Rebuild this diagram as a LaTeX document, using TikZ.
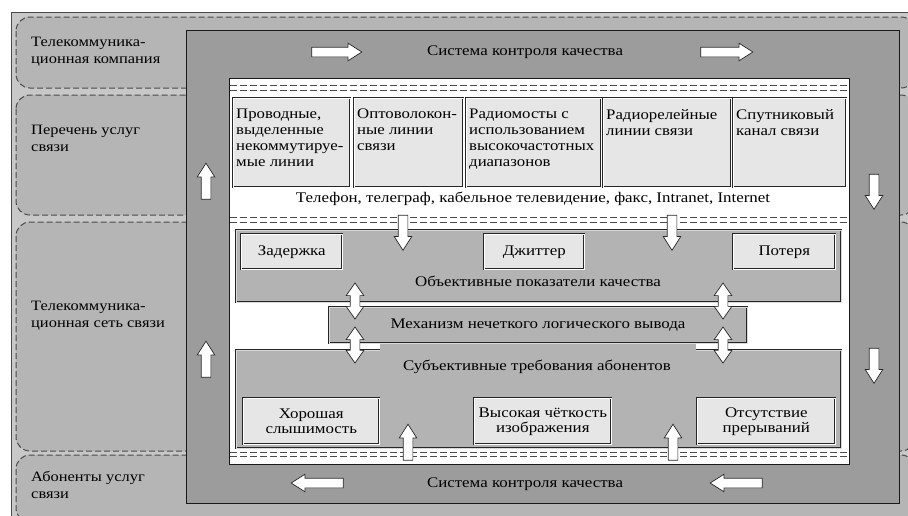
\documentclass[tikz,border=0pt]{standalone}
\usepackage{fontspec}
\setmainfont{Liberation Serif}[FakeStretch=1.15]
\usetikzlibrary{shapes.arrows}
\definecolor{bgout}{HTML}{C8C8C8}
\definecolor{regfill}{HTML}{B5B5B5}
\definecolor{framefill}{HTML}{9C9C9C}
\definecolor{panelfill}{HTML}{B3B3B3}
\definecolor{boxfill}{HTML}{E6E6E6}
\definecolor{dashcol}{HTML}{4A4A4A}
\begin{document}
\begin{tikzpicture}[x=1pt,y=-1pt,
  region/.style={draw=dashcol, dash pattern=on 6pt off 3pt, rounded corners=14pt, fill=regfill, line width=1pt},
  pairline/.style={draw=dashcol, dash pattern=on 7pt off 3pt, line width=0.9pt},
  lbl/.style={anchor=north west, align=left, inner sep=0pt, font=\fontsize{14.3}{17}\selectfont},
  btxt/.style={anchor=north west, align=left, inner sep=0pt, font=\fontsize{14.6}{16}\selectfont},
  ctxt/.style={inner sep=0pt, align=center, font=\fontsize{14.7}{15}\selectfont},
  cbox/.style={draw=black!85, double=white, double distance=0.7pt, line width=0.6pt, fill=boxfill, anchor=north west, inner sep=0pt},
  panel/.style={draw=black!85, double=black!15, double distance=0.6pt, line width=0.55pt, fill=panelfill},
  sarrow/.style={single arrow, draw=black!85, fill=white, line width=0.7pt, inner sep=4.5pt, single arrow head extend=4pt, single arrow head indent=0pt, single arrow tip angle=65, minimum height=#1},
  darrow/.style={double arrow, draw=black!85, fill=white, line width=0.7pt, inner sep=4.5pt, double arrow head extend=4pt, double arrow head indent=0pt, double arrow tip angle=70, minimum height=#1}]
\useasboundingbox (0,0) rectangle (908,515);
\clip (0,0) rectangle (908,515);
% outer background
\draw[fill=bgout, draw=black!70, line width=0.8pt] (11,12) rectangle (940,540);
% dashed regions
\draw[region] (16,17) rectangle (915,88);
\draw[region] (16,95) rectangle (915,215);
\draw[region] (16,222) rectangle (915,451);
\draw[region] (16,455) rectangle (915,522);
% left labels
\node[lbl] (l1) at (31,37) {Телекоммуника-\\ционная компания};
\node[lbl] (l2) at (31,125) {Перечень услуг\\связи};
\node[lbl] (l3) at (31,301) {Телекоммуника-\\ционная сеть связи};
\node[lbl] (l4) at (31,471) {Абоненты услуг\\связи};
% dark frame and white area
\draw[fill=framefill, draw=black!90, line width=0.8pt] (186,30) rectangle (899,503);
\draw[fill=white, draw=black!90, line width=0.9pt] (229,78) rectangle (849,464);
% double dashed lines
\foreach \yy in {85,90,217,222,452,456}{\draw[pairline] (230,\yy) -- (848,\yy);}
% top row boxes
\node[cbox, minimum width=117pt, minimum height=89pt] (b1) at (233,98) {};
\node[cbox, minimum width=109pt, minimum height=89pt] (b2) at (354,98) {};
\node[cbox, minimum width=135pt, minimum height=89pt] (b3) at (466,98) {};
\node[cbox, minimum width=128pt, minimum height=89pt] (b4) at (603,98) {};
\node[cbox, minimum width=113pt, minimum height=89pt] (b5) at (733,98) {};
\node[btxt] (tb1) at ([shift={(3,11)}]b1.north west) {Проводные,\\выделенные\\некоммутируе-\\мые линии};
\node[btxt] (tb2) at ([shift={(3,11)}]b2.north west) {Оптоволокон-\\ные линии\\связи};
\node[btxt] (tb3) at ([shift={(3,11)}]b3.north west) {Радиомосты с\\использованием\\высокочастотных\\диапазонов};
\node[btxt] (tb4) at ([shift={(3,11)}]b4.north west) {Радиорелейные\\линии связи};
\node[btxt] (tb5) at ([shift={(3,11)}]b5.north west) {Спутниковый\\канал связи};
\node[ctxt] (serv) at (533,199) {Телефон, телеграф, кабельное телевидение, факс, Intranet, Internet};
% frame texts
\node[ctxt] (sq1) at (525,52) {Система контроля качества};
\node[ctxt] (sq2) at (525,484) {Система контроля качества};
% objective panel
\draw[panel] (236,230) rectangle (841,302);
\node[cbox, minimum width=101pt, minimum height=35pt] (o1) at (241,234) {};
\node[cbox, minimum width=100pt, minimum height=35pt] (o2) at (484,234) {};
\node[cbox, minimum width=102pt, minimum height=35pt] (o3) at (733,234) {};
\node[ctxt] (to1) at (o1.center) {Задержка};
\node[ctxt] (to2) at (o2.center) {Джиттер};
\node[ctxt] (to3) at (o3.center) {Потеря};
\node[ctxt] (obj) at (538,281) {Объективные показатели качества};
% subjective panel
\draw[panel] (236,350) rectangle (841,448);
\fill[panelfill] (380,341) rectangle (696,352);
% mechanism
\draw[panel] (329,307) rectangle (747,343);
\node[ctxt] (mech) at (538,325) {Механизм нечеткого логического вывода};
\node[cbox, minimum width=136pt, minimum height=46pt] (s1) at (243,398) {};
\node[cbox, minimum width=137pt, minimum height=46pt] (s2) at (474,398) {};
\node[cbox, minimum width=138pt, minimum height=46pt] (s3) at (697,398) {};
\node[ctxt] (ts1) at (s1.center) {Хорошая\\слышимость};
\node[ctxt] (ts2) at (s2.center) {Высокая чёткость\\изображения};
\node[ctxt] (ts3) at (s3.center) {Отсутствие\\прерываний};
\node[ctxt] (subj) at (537,367) {Субъективные требования абонентов};
% frame arrows
\node[sarrow=50pt, shape border rotate=0] (a1) at (333,52) {};
\node[sarrow=52pt, shape border rotate=0] (a2) at (723,52) {};
\node[sarrow=36pt, shape border rotate=90] (a3) at (206,185) {};
\node[sarrow=36pt, shape border rotate=90] (a4) at (206,363) {};
\node[sarrow=35pt, shape border rotate=270] (a5) at (874,188) {};
\node[sarrow=35pt, shape border rotate=270] (a6) at (874,362) {};
\node[sarrow=52pt, shape border rotate=180] (a7) at (321,483) {};
\node[sarrow=52pt, shape border rotate=180] (a8) at (740,483) {};
% inner arrows
\node[sarrow=35pt, shape border rotate=270] (d1) at (403,229) {};
\node[sarrow=35pt, shape border rotate=270] (d2) at (672,229) {};
\node[darrow=36pt, shape border rotate=90] (e1) at (355,301) {};
\node[darrow=36pt, shape border rotate=90] (e2) at (723,301) {};
\node[darrow=36pt, shape border rotate=90] (f1) at (355,345) {};
\node[darrow=36pt, shape border rotate=90] (f2) at (723,345) {};
\node[sarrow=36pt, shape border rotate=90] (u1) at (408,446) {};
\node[sarrow=36pt, shape border rotate=90] (u2) at (673,446) {};
\end{tikzpicture}
\end{document}
